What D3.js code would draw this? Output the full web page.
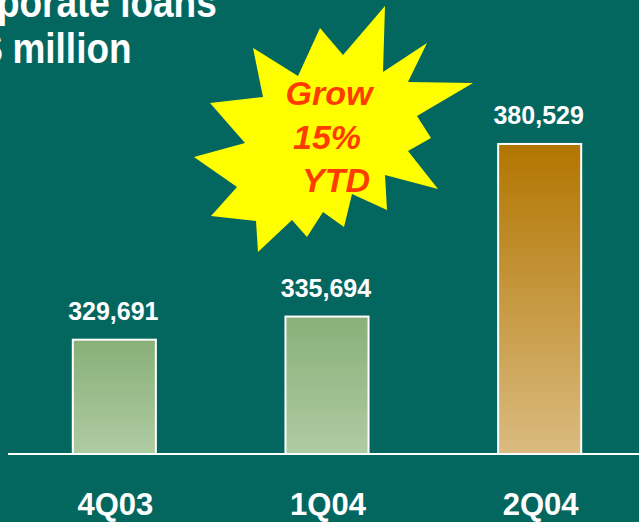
<!DOCTYPE html>
<html>
<head>
<meta charset="utf-8">
<script src="https://cdn.jsdelivr.net/npm/d3@7"></script>
<style>
  html, body { margin: 0; padding: 0; background: #04675F; }
  svg { display: block; }
</style>
</head>
<body>
<svg id="chart" width="639" height="522"></svg>
<script>
// Corporate loan balances by quarter (NT$ million)
const categories = ["4Q03", "1Q04", "2Q04"];
const loans = [329691, 335694, 380529];
const valueLabels = ["329,691", "335,694", "380,529"];
const titleLines = ["Corporate loans", "NT$ million"];
const burstLines = ["Grow", "15%", "YTD"];

const W = 639, H = 522;
const svg = d3.select("#chart");

svg.append("rect").attr("width", W).attr("height", H).attr("fill", "#04675F");

const defs = svg.append("defs");
function vGrad(id, top, bottom) {
  const g = defs.append("linearGradient").attr("id", id)
    .attr("x1", 0).attr("y1", 0).attr("x2", 0).attr("y2", 1);
  g.append("stop").attr("offset", "0%").attr("stop-color", top);
  g.append("stop").attr("offset", "100%").attr("stop-color", bottom);
}
vGrad("gGreen", "#88B078", "#AFCBA3");
vGrad("gGold", "#B27500", "#DABB80");
const fills = ["url(#gGreen)", "url(#gGreen)", "url(#gGold)"];

const x = d3.scaleBand().domain(categories).range([8, 646])
  .paddingInner(0.6).paddingOuter(0.3);
const y = d3.scaleLinear().domain([300000, 400000]).range([454, 69]);

// Title (runs off the left edge)
const title = svg.append("g").attr("transform", "scale(0.86,1)")
  .attr("fill", "#fff")
  .style("font-family", "Liberation Sans, Arial, sans-serif")
  .style("font-weight", "bold").style("font-size", "43px")
  .attr("text-anchor", "end");
title.append("text").attr("x", 252).attr("y", 17).text(titleLines[0]);
title.append("text").attr("x", 153).attr("y", 63).text(titleLines[1]);

// Bars
svg.selectAll("rect.bar").data(loans).join("rect")
  .attr("class", "bar")
  .attr("x", (d, i) => x(categories[i]) + 1)
  .attr("width", x.bandwidth() - 2)
  .attr("y", d => y(d))
  .attr("height", d => y.range()[0] - y(d))
  .attr("fill", (d, i) => fills[i])
  .attr("stroke", "#fff").attr("stroke-width", 2);

// Baseline
svg.append("line").attr("x1", 8).attr("x2", W).attr("y1", 454).attr("y2", 454)
  .attr("stroke", "#fff").attr("stroke-width", 2);

// Value labels
svg.selectAll("text.val").data(loans).join("text")
  .attr("class", "val")
  .attr("x", (d, i) => x(categories[i]) + x.bandwidth() / 2 - 1)
  .attr("y", d => y(d) - 20)
  .attr("text-anchor", "middle").attr("fill", "#fff")
  .style("font-family", "Liberation Sans, Arial, sans-serif")
  .style("font-weight", "bold").style("font-size", "25px")
  .text((d, i) => valueLabels[i]);

// Category axis labels
svg.selectAll("text.cat").data(categories).join("text")
  .attr("class", "cat")
  .attr("x", d => x(d) + x.bandwidth() / 2 + 1)
  .attr("y", 515)
  .attr("text-anchor", "middle").attr("fill", "#fff")
  .style("font-family", "Liberation Sans, Arial, sans-serif")
  .style("font-weight", "bold").style("font-size", "31px")
  .text(d => d);

// Starburst callout: outline points relative to its centre
const burstCenter = [330, 130];
const burstShape = [
  [-77, -82], [-32, -54], [-10, -102], [13, -75], [55, -124], [53, -58],
  [97, -87], [78, -48], [143, -47], [87, -14], [101, 8], [78, 21],
  [108, 59], [55, 45], [57, 80], [22, 64], [14, 97], [-7, 82],
  [-23, 107], [-38, 90], [-72, 122], [-74, 91], [-119, 86], [-93, 57],
  [-136, 27], [-85, 13], [-120, -27], [-67, -33]
];
svg.append("path")
  .attr("transform", `translate(${burstCenter[0]},${burstCenter[1]})`)
  .attr("d", d3.line()(burstShape) + "Z")
  .attr("fill", "#FFFF00");

const burstX = [329, 327, 336];
svg.selectAll("text.burst").data(burstLines).join("text")
  .attr("class", "burst")
  .attr("x", (d, i) => burstX[i])
  .attr("y", (d, i) => 105 + i * 43.5)
  .attr("text-anchor", "middle").attr("fill", "#FF3C00")
  .style("font-family", "Liberation Sans, Arial, sans-serif")
  .style("font-weight", "bold").style("font-style", "italic")
  .style("font-size", "34px")
  .text(d => d);
</script>
</body>
</html>
